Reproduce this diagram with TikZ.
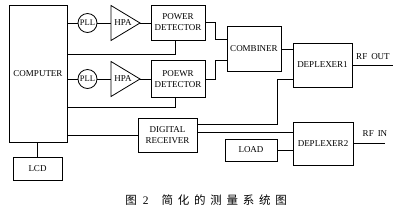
\documentclass[tikz,border=0pt]{standalone}
\usepackage{fontspec}
\setmainfont{Liberation Serif}
\newfontfamily\cjk{Noto Sans CJK SC}
\usetikzlibrary{calc}
\newcommand{\cjsp}{\hspace{4.75pt}}
\begin{document}
\begin{tikzpicture}[x=1pt,y=-1pt,
  line width=0.8pt,
  box/.style={draw, rectangle, inner sep=0pt, align=center, font=\fontsize{9}{11}\selectfont},
  pllc/.style={draw, circle, minimum size=19pt, inner sep=0pt, font=\fontsize{8.5}{9}\selectfont},
  lbl/.style={inner sep=0pt, font=\fontsize{9}{10}\selectfont}]
\useasboundingbox[fill=white] (0,0) rectangle (400,210);

% blocks
\node[box, minimum width=58pt, minimum height=137pt] (comp) at (38,73.5) {COMPUTER};
\node[box, minimum width=49pt, minimum height=23pt] (lcd) at (37.5,168.5) {LCD};
\node[pllc] (pll1) at (87.5,23) {PLL};
\node[pllc] (pll2) at (87.5,79) {PLL};
\node[lbl] (hpa1) at (123,23) {HPA};
\node[lbl] (hpa2) at (123,79) {HPA};
\draw (111,5.5) coordinate (hpa1t) -- (140,23) coordinate (hpa1out) -- (111,40.5) -- cycle;
\coordinate (hpa1in) at (111,23);
\draw (111,61.5) coordinate (hpa2t) -- (140,79) coordinate (hpa2out) -- (111,96.5) -- cycle;
\coordinate (hpa2in) at (111,79);
\node[box, minimum width=54pt, minimum height=35pt] (det1) at (178,22.5) {POWER\\DETECTOR};
\node[box, minimum width=54pt, minimum height=37pt] (det2) at (178,79) {POEWR\\DETECTOR};
\node[box, minimum width=54pt, minimum height=45pt] (comb) at (254,48.5) {COMBINER};
\node[box, minimum width=59pt, minimum height=44pt] (dep1) at (322.5,65) {DEPLEXER1};
\node[box, minimum width=59pt, minimum height=34pt] (dig) at (167.5,135) {DIGITAL\\RECEIVER};
\node[box, minimum width=60pt, minimum height=43pt] (dep2) at (323,143.5) {DEPLEXER2};
\node[box, minimum width=52pt, minimum height=22pt] (load) at (251,150) {LOAD};
\node[lbl] (rfout) at (373,57) {RF\hspace{4pt}OUT};
\node[lbl] (rfin) at (375,134) {RF\hspace{4pt}IN};
\coordinate (rfoutend) at (393,65);
\coordinate (rfinend) at (385,143);

% connectors
\draw (pll1.west -| comp.east) -- (pll1.west);
\draw (pll1.east) -- (hpa1in);
\draw (hpa1out) -- (hpa1out -| det1.west);
\draw ($(comp.north east)+(0,50)$) -| ([xshift=-3pt]det1.south);
\draw (pll2.west -| comp.east) -- (pll2.west);
\draw (pll2.east) -- (hpa2in);
\draw (hpa2out) -- (hpa2out -| det2.west);
\draw ($(comp.north east)+(0,103)$) -| ([xshift=-3pt]det2.south);
\draw (det1.east) -- ++(10,0) |- ($(comb.west)+(0,-9.5)$);
\draw (det2.east) -- ++(10,0) |- ($(comb.west)+(0,11.5)$);
\draw ($(comb.east)+(0,0.5)$) coordinate (c1) -- (c1 -| dep1.west);
\draw (dep1.east) -- (dep1.east -| rfoutend);
\draw (dig.west) -- (dig.west -| comp.east);
\draw ($(dig.north east)+(0,7)$) -- ++(80,0) |- ($(dep1.west)+(0,14)$);
\draw ($(dig.north east)+(0,15)$) coordinate (d2) -- (d2 -| dep2.west);
\draw (load.east) -- (load.east -| dep2.west);
\draw ($(dep2.east)+(0,-0.5)$) coordinate (e2) -- (e2 -| rfinend);
\draw (lcd.north) -- (lcd.north |- comp.south);

% caption
\node[anchor=west, inner sep=0pt, font=\fontsize{11.5}{13}\selectfont] (cap) at (125,200)
  {{\cjk 图}\hspace{6pt}2\hspace{13pt}{\cjk 简\cjsp 化\cjsp 的\cjsp 测\cjsp 量\cjsp 系\cjsp 统\cjsp 图}};
\end{tikzpicture}
\end{document}
